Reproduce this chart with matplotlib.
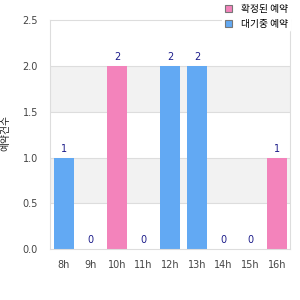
import matplotlib.pyplot as plt
from matplotlib.patches import Patch

plt.rcParams['font.family'] = ['Noto Sans CJK KR', 'DejaVu Sans']

hours = ['8h', '9h', '10h', '11h', '12h', '13h', '14h', '15h', '16h']
counts = [1, 0, 2, 0, 2, 2, 0, 0, 1]
kinds = ['b', 'b', 'p', 'b', 'b', 'b', 'b', 'b', 'p']
legend_labels = ['확정된 예약', '대기중 예약']
y_label = '예약건수'

pink = '#f383bb'
blue = '#62a9f3'
text_col = '#444444'
label_col = '#1c1c8a'


def main():
    fig = plt.figure(figsize=(3, 3), dpi=100)
    ax = fig.add_axes([0.168, 0.17, 0.799, 0.762])

    # alternating background bands
    for lo in [0.5, 1.5]:
        ax.axhspan(lo, lo + 0.5, color='#f2f2f2', zorder=0, lw=0)
    for y in [0.5, 1.0, 1.5, 2.0]:
        ax.axhline(y, color='#dddddd', lw=0.8, zorder=1)

    colors = [pink if k == 'p' else blue for k in kinds]
    x = range(len(hours))
    bars = ax.bar(x, counts, width=0.75, color=colors, zorder=2)

    for b, v in zip(bars, counts):
        ax.text(b.get_x() + b.get_width() / 2, v + 0.04, str(v),
                ha='center', va='bottom', fontsize=7, color=label_col,
                family='DejaVu Sans')

    ax.set_xlim(-0.5, len(hours) - 0.5)
    ax.set_ylim(0, 2.5)
    ax.set_yticks([0, 0.5, 1.0, 1.5, 2.0, 2.5])
    ax.set_yticklabels(['0.0', '0.5', '1.0', '1.5', '2.0', '2.5'],
                       family='DejaVu Sans')
    ax.set_xticks(list(x))
    ax.set_xticklabels(hours, family='DejaVu Sans')
    ax.tick_params(length=0, labelsize=7, colors=text_col, pad=8)
    ax.tick_params(axis='y', pad=9)

    for s in ax.spines.values():
        s.set_color('#dddddd')
        s.set_linewidth(0.8)

    fig.text(0.018, 0.555, y_label, rotation=90, ha='center', va='center',
             fontsize=7, color='#222222')

    handles = [Patch(facecolor=pink, edgecolor='#777777', lw=0.8),
               Patch(facecolor=blue, edgecolor='#777777', lw=0.8)]
    leg = fig.legend(handles, legend_labels, loc='upper right',
                     bbox_to_anchor=(0.985, 1.012), fontsize=7,
                     frameon=True, facecolor='white', edgecolor='none',
                     framealpha=1, handlelength=0.7, handleheight=0.7,
                     handletextpad=0.9, labelspacing=0.5, borderpad=0.3)
    leg.set_zorder(10)

    fig.savefig('out.png', dpi=100)


if __name__ == "__main__":
    main()
